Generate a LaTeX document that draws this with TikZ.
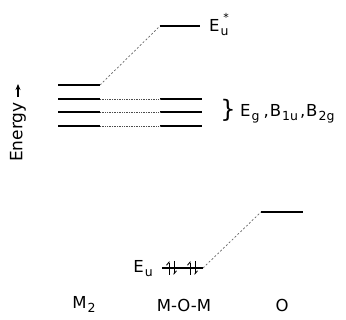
\documentclass[tikz,border=0pt]{standalone}
\usepackage{fontspec}
\setmainfont{DejaVu Sans}
\usetikzlibrary{arrows.meta, positioning}
\newcommand{\lsub}[1]{\kern1pt\raisebox{-4pt}{\fontsize{12.5}{13}\selectfont #1}}

\begin{document}
\begin{tikzpicture}[
    x=1pt, y=-1pt,
    lvl/.style={line width=2pt},
    link/.style={densely dotted, line width=0.7pt, color=black!70},
    corr/.style={dash pattern=on 2pt off 2pt, line width=0.7pt, color=black!60},
    elec/.style={line width=0.9pt, -{Straight Barb[harpoon, length=3pt, width=5pt]}},
    lab/.style={font=\fontsize{16.5}{20}\selectfont, inner sep=0pt}
]
\useasboundingbox (0,0) rectangle (346,320);

\coordinate (ma1) at (58,85);   \coordinate (mb1) at (100,85);
\coordinate (ma2) at (58,99);   \coordinate (mb2) at (100,99);
\coordinate (ma3) at (58,112);  \coordinate (mb3) at (100,112);
\coordinate (ma4) at (58,126);  \coordinate (mb4) at (100,126);
\coordinate (ca2) at (160,99);  \coordinate (cb2) at (202,99);
\coordinate (ca3) at (160,112); \coordinate (cb3) at (202,112);
\coordinate (ca4) at (160,126); \coordinate (cb4) at (202,126);
\coordinate (sa) at (160,26);   \coordinate (sb) at (200,26);
\coordinate (ua) at (162,268);  \coordinate (ub) at (203,268);
\coordinate (oa) at (261,212);  \coordinate (ob) at (303,212);

\draw[lvl] (ma1) -- (mb1);
\draw[lvl] (ma2) -- (mb2);
\draw[lvl] (ma3) -- (mb3);
\draw[lvl] (ma4) -- (mb4);
\draw[lvl] (ca2) -- (cb2);
\draw[lvl] (ca3) -- (cb3);
\draw[lvl] (ca4) -- (cb4);
\draw[lvl] (sa) -- (sb);
\draw[line width=1.4pt] (ua) -- (ub);
\draw[lvl] (oa) -- (ob);

\draw[link] (mb2) -- (ca2);
\draw[link] (mb3) -- (ca3);
\draw[link] (mb4) -- (ca4);
\draw[corr] (mb1) -- (sa);
\draw[corr] (ub) -- (oa);

\foreach \ex in {169,190} {
  \draw[elec] (\ex,275) -- (\ex,261);
  \draw[elec] (\ex+5,261) -- (\ex+5,275);
}

\node[lab, anchor=base west] (estar) at (209,32) {E\lsub{u}};
\node[lab, font=\fontsize{11}{12}\selectfont, anchor=south] (star) at (226,22) {*};
\node[lab, font=\fontsize{24}{28}\selectfont] (brace) at (228,110) {\}};
\node[lab, anchor=base west] (sym) at (240,117) {E\lsub{g}\kern4pt,\kern1pt B\lsub{1u}\kern2pt,\kern1pt B\lsub{2g}};
\node[lab, anchor=base east] (eu) at (153,273) {E\lsub{u}};

\node[lab, rotate=90, font=\fontsize{17}{20}\selectfont] (energy) at (18,132) {Energy};
\draw[-{Stealth[length=6pt, width=5pt]}, line width=1.2pt] (energy.east) ++(0,-5) -- ++(0,-13);

\node[lab, anchor=base] (m2) at (84,309) {M\lsub{2}};
\node[lab] (mom) at (184,305) {M-O-M};
\node[lab] (o) at (282,305) {O};
\end{tikzpicture}
\end{document}
